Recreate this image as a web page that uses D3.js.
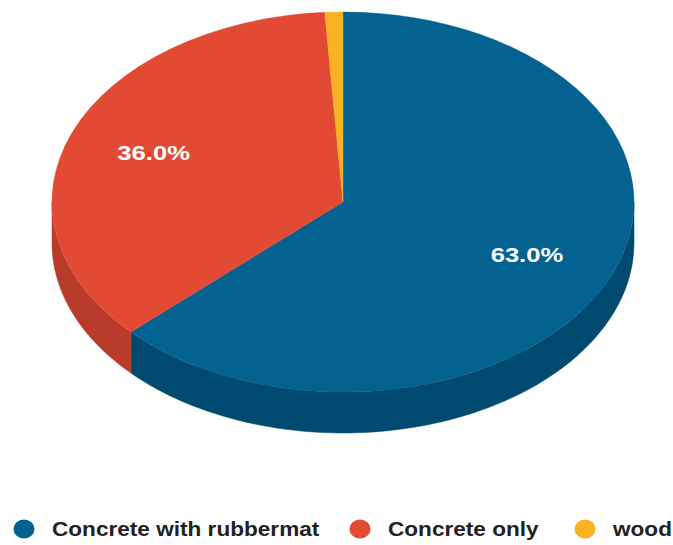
<!DOCTYPE html>
<html><head><meta charset="utf-8">
<script src="https://cdn.jsdelivr.net/npm/d3@7"></script>
<style>body{margin:0;background:#fff}svg{display:block}</style>
</head><body>
<svg id="c" width="673" height="545"></svg>
<script>
const categories = ["Concrete with rubbermat", "Concrete only", "wood"];
const values = [63.0, 36.0, 1.0];
const colors = ["#03628f", "#e24a33", "#fbb222"];
const sideColors = ["#004a70", "#b93b2a", "#c98d18"];

const svg = d3.select("#c");
const cx = 343, cy = 202, rx = 291, ry = 190, depth = 41;
const total = d3.sum(values);
const pie = d3.pie().sort(null).value(d => d)(values);

function pt(a, dy) { return [cx + rx * Math.sin(a), cy - ry * Math.cos(a) + (dy || 0)]; }

// sides (front half)
const gSide = svg.append("g");
pie.forEach((s, i) => {
  const a0 = Math.max(s.startAngle, Math.PI / 2), a1 = Math.min(s.endAngle, 3 * Math.PI / 2);
  if (a1 <= a0) return;
  const n = 80, top = [], bot = [];
  for (let k = 0; k <= n; k++) {
    const a = a0 + (a1 - a0) * k / n;
    top.push(pt(a, 0)); bot.push(pt(a, depth));
  }
  const poly = top.concat(bot.reverse());
  gSide.append("path").attr("d", "M" + poly.map(p => p.join(",")).join("L") + "Z")
    .attr("fill", sideColors[i]).attr("stroke", sideColors[i]).attr("stroke-width", 0.5);
});

// top faces
const arc = d3.arc().innerRadius(0).outerRadius(rx);
const gTop = svg.append("g").attr("transform", `translate(${cx},${cy}) scale(1,${ry / rx})`);
gTop.selectAll("path").data(pie).join("path")
  .attr("d", arc).attr("fill", (d, i) => colors[i])
  .attr("stroke", (d, i) => colors[i]).attr("stroke-width", 0.5);

// labels
pie.forEach((s, i) => {
  if (s.value / total < 0.05) return;
  const m = (s.startAngle + s.endAngle) / 2;
  const f = 0.7;
  svg.append("text")
    .attr("transform", `translate(${cx + rx * f * Math.sin(m) - (i === 0 ? 3 : 0)},${cy - ry * f * Math.cos(m)}) scale(1.22,1)`)
    .attr("text-anchor", "middle").attr("dominant-baseline", "central")
    .attr("fill", "#fff").attr("font-family", "Liberation Sans, Arial, sans-serif")
    .attr("font-weight", "bold").attr("font-size", 21)
    .text((s.value / total * 100).toFixed(1) + "%");
});

// legend
const legX = [24, 360, 585];
const lg = svg.append("g");
categories.forEach((c, i) => {
  lg.append("ellipse").attr("cx", legX[i]).attr("cy", 529).attr("rx", 10.5).attr("ry", 9.5).attr("fill", colors[i]);
  lg.append("text").attr("transform", `translate(${legX[i] + 28},529) scale(1.13,1)`)
    .attr("dominant-baseline", "central")
    .attr("font-family", "Liberation Sans, Arial, sans-serif").attr("font-weight", "bold")
    .attr("font-size", 20).attr("fill", "#222").text(c);
});
</script>
</body></html>
